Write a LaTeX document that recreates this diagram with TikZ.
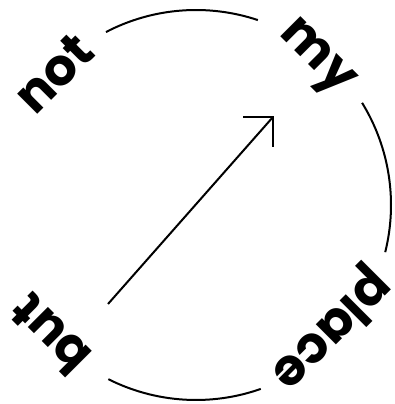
\documentclass[tikz,border=0pt]{standalone}
\usepackage{fontspec}
\setmainfont{Poppins}
\begin{document}
\begin{tikzpicture}[x=1pt,y=1pt,line width=2pt,
  word/.style={font=\fontsize{51}{51}\selectfont\bfseries,inner sep=0pt}]
\useasboundingbox (0,0) rectangle (394,404);
\coordinate (c) at (196,199);
\node[word,rotate=45] (not) at (54,331) {not};
\node[word,rotate=-45] (my) at (314,344) {my};
\node[word,rotate=-135] (place) at (330,76) {place};
\node[word,rotate=135] (but) at (50,69) {but};
\draw ([shift={(117.5:195)}]c) arc[start angle=117.5,end angle=71.5,radius=195];
\draw ([shift={(31.6:195)}]c) arc[start angle=31.6,end angle=-14,radius=195];
\draw ([shift={(-70.6:195)}]c) arc[start angle=-70.6,end angle=-116.7,radius=195];
\coordinate (tail) at (108,100);
\coordinate (tip) at (273,287);
\draw (tail) -- (tip);
\draw ([xshift=-30pt]tip) -- (tip) -- ([yshift=-30pt]tip);
\end{tikzpicture}
\end{document}
